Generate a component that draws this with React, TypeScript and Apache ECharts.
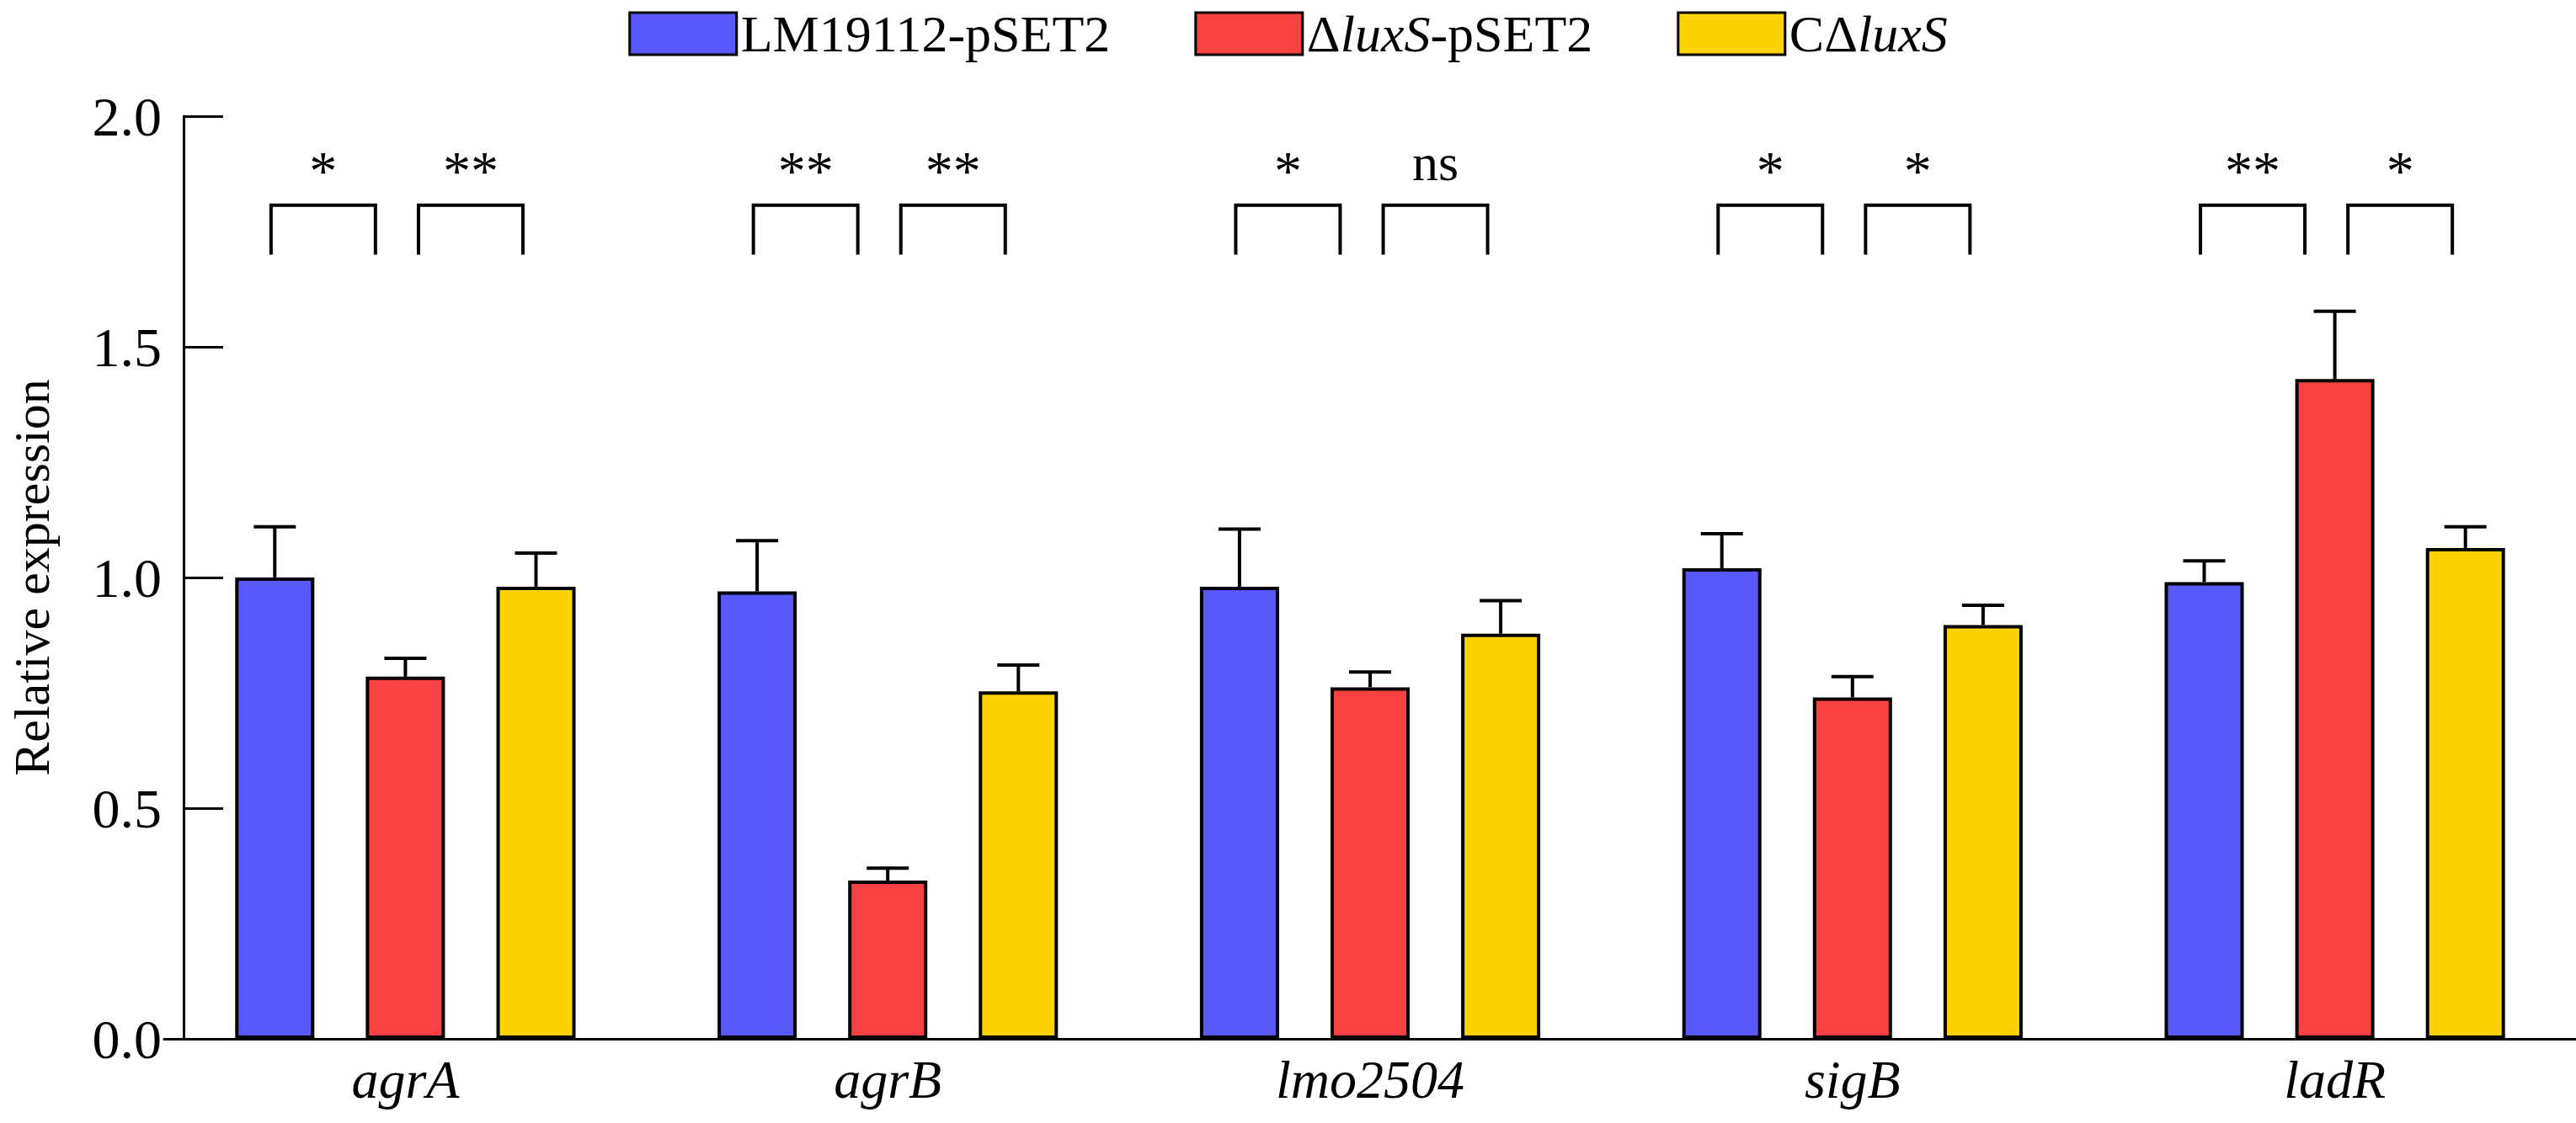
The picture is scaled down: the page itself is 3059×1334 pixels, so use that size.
import { useEffect, useRef } from 'react';
import * as echarts from 'echarts';

const genes = ['agrA', 'agrB', 'lmo2504', 'sigB', 'ladR'];
const strains = ['LM19112-pSET2', 'ΔluxS-pSET2', 'CΔluxS'];
const colors = ['#5959fb', '#fb4242', '#fdd200'];

const wildMean = [1.0, 0.97, 0.98, 1.02, 0.99];
const wildErr = [0.11, 0.11, 0.125, 0.075, 0.046];
const mutantMean = [0.785, 0.343, 0.762, 0.74, 1.43];
const mutantErr = [0.04, 0.027, 0.033, 0.045, 0.147];
const compMean = [0.98, 0.753, 0.878, 0.897, 1.064];
const compErr = [0.073, 0.057, 0.072, 0.043, 0.046];

// [left-pair, right-pair] significance labels per gene
const sigLabels = [
  ['*', '**'],
  ['**', '**'],
  ['*', 'ns'],
  ['*', '*'],
  ['**', '*'],
];

const BAR_W = 94;
const STEP = BAR_W * 1.65;
const FONT = 'Liberation Serif';

export default function App() {
  const ref = useRef<HTMLDivElement>(null);

  useEffect(() => {
    document.body.style.margin = '0';
    if (!ref.current) return;
    const chart = echarts.init(ref.current, undefined, { renderer: 'svg' });

    const means = [wildMean, mutantMean, compMean];
    const errs = [wildErr, mutantErr, compErr];

    const barSeries = strains.map((name, i) => ({
      name,
      type: 'bar',
      data: means[i],
      barWidth: BAR_W,
      barGap: '65%',
      itemStyle: { color: colors[i], borderColor: '#000', borderWidth: 4 },
      z: 2,
    }));

    const errSeries = strains.map((_, i) => ({
      type: 'custom',
      silent: true,
      z: 1,
      data: means[i].map((m, j) => [j, m, m + errs[i][j]]),
      renderItem(params: any, api: any) {
        const base = api.coord([api.value(0), api.value(1)]);
        const top = api.coord([api.value(0), api.value(2)]);
        const x = base[0] + (i - 1) * STEP;
        return {
          type: 'group',
          children: [
            { type: 'line', shape: { x1: x, y1: base[1], x2: x, y2: top[1] }, style: { stroke: '#000', lineWidth: 4 } },
            { type: 'line', shape: { x1: x - 25, y1: top[1], x2: x + 25, y2: top[1] }, style: { stroke: '#000', lineWidth: 4 } },
          ],
        };
      },
    }));

    const bracketData: any[] = [];
    sigLabels.forEach((pair, j) => {
      pair.forEach((label, k) => bracketData.push([j, k, label]));
    });

    const bracketSeries = {
      type: 'custom',
      silent: true,
      data: bracketData,
      renderItem(params: any, api: any) {
        const j = api.value(0);
        const k = api.value(1);
        const label = bracketData[params.dataIndex][2];
        const c = api.coord([j, 1.807]);
        const yLeg = api.coord([j, 1.7])[1];
        const yText = api.coord([j, 1.9])[1];
        const cx = c[0] + (k === 0 ? -STEP / 2 - 20 : STEP / 2);
        const hw = 62;
        return {
          type: 'group',
          children: [
            {
              type: 'polyline',
              shape: { points: [[cx - hw, yLeg], [cx - hw, c[1]], [cx + hw, c[1]], [cx + hw, yLeg]] },
              style: { stroke: '#000', lineWidth: 4, fill: 'none' },
            },
            {
              type: 'text',
              style: {
                x: cx,
                y: label === 'ns' ? yText : yText + 10,
                text: label,
                fill: '#000',
                font: `${label === 'ns' ? 62 : 66}px "${FONT}"`,
                align: 'center',
                verticalAlign: 'middle',
              },
            },
          ],
        };
      },
    };

    chart.setOption({
      animation: false,
      legend: {
        top: 4,
        left: 'center',
        icon: 'rect',
        itemWidth: 127,
        itemHeight: 50,
        itemGap: 100,
        data: strains,
        itemStyle: { borderColor: '#000', borderWidth: 3 },
        formatter(name: string) {
          if (name === 'ΔluxS-pSET2') return '{n|Δ}{i|luxS}{n|-pSET2}';
          if (name === 'CΔluxS') return '{n|CΔ}{i|luxS}';
          return '{n|' + name + '}';
        },
        textStyle: {
          fontFamily: FONT,
          fontSize: 62,
          color: '#000',
          rich: {
            n: { fontFamily: FONT, fontSize: 62, color: '#000' },
            i: { fontFamily: FONT, fontSize: 62, fontStyle: 'italic', color: '#000' },
          },
        },
      },
      grid: { left: 191, right: -18, top: 138, bottom: 100 },
      xAxis: {
        type: 'category',
        data: genes,
        axisTick: { show: false },
        axisLine: { lineStyle: { color: '#000', width: 3 } },
        axisLabel: { fontFamily: FONT, fontSize: 64, fontStyle: 'italic', color: '#000', margin: 16 },
      },
      yAxis: {
        type: 'value',
        min: 0,
        max: 2,
        interval: 0.5,
        offset: -23,
        name: 'Relative expression',
        nameLocation: 'middle',
        nameGap: 150,
        nameTextStyle: { fontFamily: FONT, fontSize: 60, color: '#000' },
        axisLine: { show: true, lineStyle: { color: '#000', width: 3 } },
        axisTick: { show: true, inside: true, length: 47, lineStyle: { color: '#000', width: 3 } },
        splitLine: { show: false },
        axisLabel: {
          fontFamily: FONT,
          fontSize: 66,
          color: '#000',
          margin: 26,
          formatter: (v: number) => v.toFixed(1),
        },
      },
      series: [...barSeries, ...errSeries, bracketSeries],
    });

    return () => chart.dispose();
  }, []);

  return <div ref={ref} style={{ width: 3059, height: 1334 }} />;
}
